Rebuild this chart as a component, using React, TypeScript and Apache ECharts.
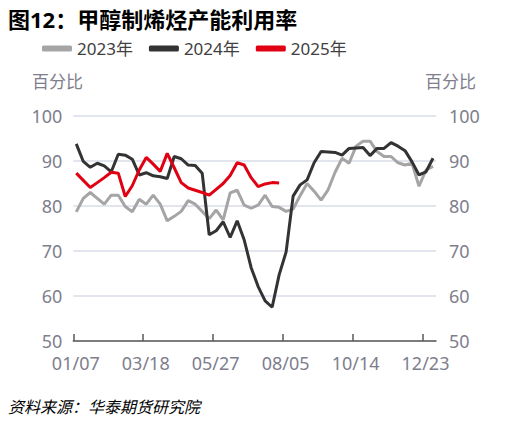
import React, { useEffect, useRef } from "react";
import * as echarts from "echarts";

const TITLE = "图12：甲醇制烯烃产能利用率";
const SOURCE = "资料来源：华泰期货研究院";
const Y_NAME = "百分比";
const X_LABELS = ["01/07", "03/18", "05/27", "08/05", "10/14", "12/23"];
const X_LABEL_STEP_DAYS = 70;
const X_AXIS_DAYS = 363;
const FIRST_POINT_DAY = 3;
const WEEK_DAYS = 7;

const SERIES_NAMES = ["2023年", "2024年", "2025年"];
const COLORS = ["#a5a5a5", "#333333", "#e00012"];

const v2023 = [
  78.7, 81.7, 83.0, 81.7, 80.4, 82.4, 82.4, 79.9, 78.7, 81.5,
  80.4, 82.4, 80.4, 76.7, 77.7, 78.8, 81.2, 80.4, 78.8, 77.2,
  79.1, 76.9, 82.9, 83.5, 80.2, 79.5, 80.2, 82.4, 79.9, 79.7,
  78.8, 79.3, 82.3, 85.0, 83.3, 81.3, 83.6, 87.5, 90.6, 89.5,
  93.3, 94.4, 94.4, 92.1, 91.0, 91.0, 89.6, 89.1, 89.5, 84.4,
  88.0, 88.8,
];
const v2024 = [
  93.8, 89.9, 88.6, 89.5, 88.9, 87.6, 91.5, 91.3, 90.4, 86.9,
  87.4, 86.7, 86.5, 86.1, 91.0, 90.5, 89.1, 89.0, 87.3, 73.6,
  74.5, 76.5, 73.0, 76.7, 72.5, 66.3, 62.1, 58.9, 57.5, 64.7,
  69.8, 82.2, 84.7, 85.8, 89.6, 92.1, 92.0, 91.9, 91.3, 92.8,
  92.9, 93.0, 91.2, 92.8, 92.8, 94.1, 93.3, 92.3, 89.8, 86.9,
  87.6, 90.6,
];
const v2025 = [
  87.3, 85.7, 84.1, 85.2, 86.3, 87.5, 87.3, 82.1, 84.5, 88.0,
  90.8, 89.3, 87.7, 91.7, 88.5, 85.2, 84.0, 83.5, 83.0, 82.4,
  83.7, 85.0, 86.8, 89.6, 89.1, 86.3, 84.3, 84.9, 85.2, 85.1,
];
const VALUES = [v2023, v2024, v2025];

const FONT = "'Noto Sans', 'Noto Sans CJK SC', sans-serif";
const LABEL_COLOR = "#7e7e8c";

export default function App() {
  const ref = useRef<HTMLDivElement>(null);
  useEffect(() => {
    const chart = echarts.init(ref.current!, null, { renderer: "svg" });
    const series = VALUES.map((vals, s) => ({
      name: SERIES_NAMES[s],
      type: "line",
      data: vals.map((v, i) => [FIRST_POINT_DAY + i * WEEK_DAYS, v]),
      showSymbol: false,
      symbol: "none",
      lineStyle: { color: COLORS[s], width: 3 },
      itemStyle: { color: COLORS[s] },
      z: s + 2,
    }));
    const yAxisBase = {
      type: "value",
      min: 50,
      max: 100,
      interval: 10,
      axisLine: { show: false },
      axisTick: { show: false },
      axisLabel: { fontSize: 18, color: LABEL_COLOR, fontFamily: FONT },
    };
    chart.setOption({
      animation: false,
      backgroundColor: "#ffffff",
      textStyle: { fontFamily: FONT },
      grid: { left: 73.3, right: 83, top: 116, bottom: 85 },
      legend: {
        left: 37,
        top: 35,
        itemWidth: 30,
        itemHeight: 6,
        itemGap: 16,
        icon: "roundRect",
        textStyle: { fontSize: 17, color: "#404040", fontFamily: FONT },
        data: SERIES_NAMES,
      },
      xAxis: {
        type: "value",
        min: 0,
        max: X_AXIS_DAYS,
        interval: X_LABEL_STEP_DAYS,
        splitLine: { show: false },
        axisLine: { show: true, onZero: false, lineStyle: { color: "#595959", width: 1.5 } },
        axisTick: { show: true, inside: true, length: 7, lineStyle: { color: "#595959", width: 1.5 } },
        axisLabel: {
          fontSize: 18,
          color: LABEL_COLOR,
          fontFamily: FONT,
          margin: 13,
          padding: [0, 0, 0, 5],
          lineHeight: 18,
          showMaxLabel: false,
          formatter: (v: number) =>
            v % X_LABEL_STEP_DAYS === 0 ? X_LABELS[v / X_LABEL_STEP_DAYS] ?? "" : "",
        },
      },
      yAxis: [
        {
          ...yAxisBase,
          position: "left",
          axisLabel: { ...yAxisBase.axisLabel, margin: 11, lineHeight: 18 },
          splitLine: { show: true, lineStyle: { color: "#d9dbe8", width: 1.5 } },
        },
        {
          ...yAxisBase,
          position: "right",
          axisLabel: { ...yAxisBase.axisLabel, margin: 13, lineHeight: 18 },
          splitLine: { show: false },
        },
      ],
      graphic: [
        {
          type: "text",
          left: 8,
          top: 8,
          style: { text: TITLE, fontSize: 22, fontWeight: "bold", fill: "#000000", fontFamily: FONT },
        },
        {
          type: "text",
          left: 32,
          top: 73,
          style: { text: Y_NAME, fontSize: 17, fill: LABEL_COLOR, fontFamily: FONT },
        },
        {
          type: "text",
          left: 425,
          top: 73,
          style: { text: Y_NAME, fontSize: 17, fill: LABEL_COLOR, fontFamily: FONT },
        },
        {
          type: "text",
          left: 8,
          top: 399,
          style: { text: SOURCE, fontSize: 16, fontStyle: "italic", fill: "#000000", fontFamily: FONT },
        },
      ],
      series,
    });
    return () => chart.dispose();
  }, []);
  return (
    <div
      ref={ref}
      style={{ position: "fixed", left: 0, top: 0, width: 519, height: 426 }}
    />
  );
}
